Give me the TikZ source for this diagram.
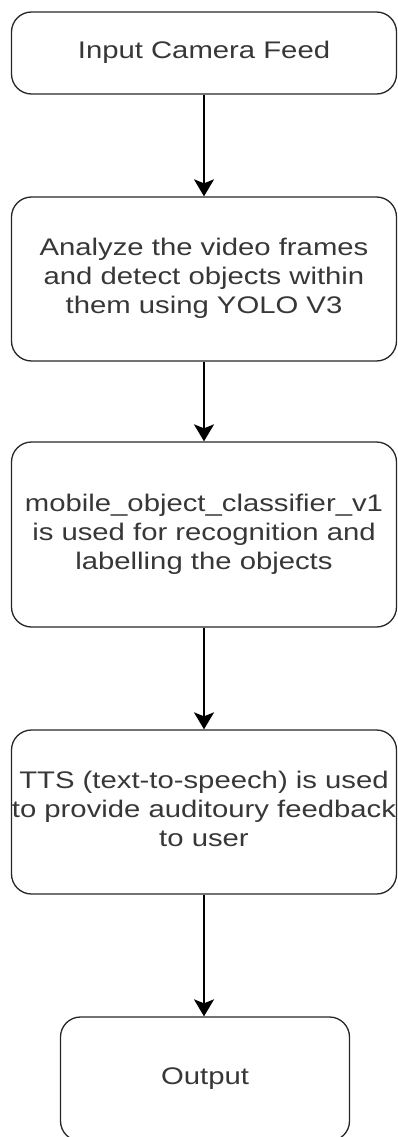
\documentclass[tikz,border=0pt]{standalone}
\usepackage{fontspec}
\setmainfont{Liberation Sans}
\usetikzlibrary{arrows.meta}
\definecolor{txtgray}{RGB}{55,55,55}
\newcommand{\boxtext}[1]{\scalebox{1.22}[1]{\fontsize{24}{29}\selectfont\begin{tabular}{@{}c@{}}#1\end{tabular}}}
\begin{document}
\begin{tikzpicture}[x=1pt,y=-1pt,
  flowbox/.style={draw=black!85, line width=1.3pt, rounded corners=20pt, rectangle,
    inner sep=0pt, text=txtgray, minimum width=385pt},
  flowarrow/.style={draw=black, line width=2pt, -{Stealth[length=17pt,width=20pt,inset=4pt]}}]
\useasboundingbox (0,0) rectangle (398,1137);
\node[flowbox, minimum height=82pt] (b1) at (204,53) {\boxtext{Input Camera Feed}};
\node[flowbox, minimum height=164pt] (b2) at (204,279) {\boxtext{Analyze the video frames\\and detect objects within\\them using YOLO V3}};
\node[flowbox, minimum height=185pt] (b3) at (204,534.5) {\boxtext{mobile\_object\_classifier\_v1\\is used for recognition and\\labelling the objects}};
\node[flowbox, minimum height=164pt] (b4) at (204,812) {\boxtext{TTS (text-to-speech) is used\\to provide auditoury feedback\\to user}};
\node[flowbox, minimum height=124pt, minimum width=289pt] (b5) at (205,1079) {\raisebox{2pt}{\boxtext{Output}}};
\draw[flowarrow] (b1.south) -- (b2.north);
\draw[flowarrow] (b2.south) -- (b3.north);
\draw[flowarrow] (b3.south) -- (b4.north);
\draw[flowarrow] (b4.south) -- (b4.south |- b5.north);
\end{tikzpicture}
\end{document}
